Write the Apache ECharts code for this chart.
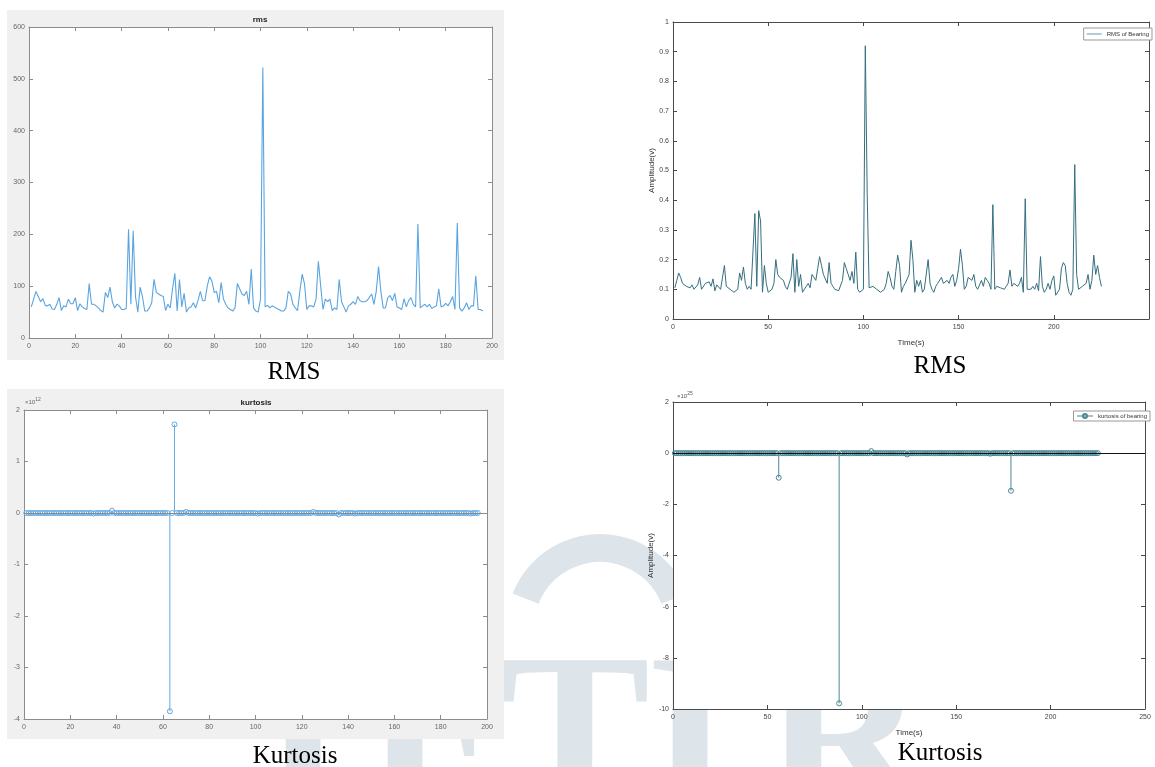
<!DOCTYPE html>
<html>
<head>
<meta charset="utf-8">
<script src="https://cdn.jsdelivr.net/npm/echarts@6/dist/echarts.min.js"></script>
<style>
html,body{margin:0;padding:0;background:#fff;}
#chart{width:1155px;height:767px;}
</style>
</head>
<body>
<div id="chart"></div>
<script>
// ---------- DATA ----------
const rmsLeft = [
60,75,90,80,70,76,63,62,65,56,
55,65,78,53,62,60,75,66,66,78,
53,66,60,57,55,105,65,65,62,58,
53,50,88,78,98,70,58,65,62,55,
55,57,210,65,207,80,50,98,80,52,
52,58,68,113,88,85,82,80,53,65,
58,95,125,52,113,60,86,50,58,60,
68,58,72,90,72,72,100,118,110,88,
90,68,107,75,65,58,55,52,58,105,
95,85,82,90,65,133,58,52,50,75,
522,60,63,58,62,60,57,55,52,52,
58,90,85,65,58,53,90,123,105,55,
62,62,60,75,148,100,55,75,70,75,
53,58,55,113,70,60,50,62,65,70,
65,80,72,70,70,72,78,85,65,90,
138,90,58,58,78,82,72,86,60,58,
55,76,60,72,78,65,60,220,58,62,
65,60,65,57,60,62,95,60,62,67,
62,70,80,55,222,58,52,58,68,55,
62,62,120,55,55,52
];

const rmsRight = [
0.105,0.13,0.155,0.14,0.12,0.125,0.11,0.115,0.105,0.115,
0.10,0.095,0.115,0.14,0.10,0.105,0.12,0.115,0.125,0.11,
0.135,0.095,0.115,0.11,0.10,0.095,0.18,0.11,0.11,0.10,
0.095,0.09,0.09,0.10,0.155,0.13,0.175,0.12,0.10,0.11,
0.10,0.095,0.355,0.11,0.365,0.33,0.09,0.18,0.12,0.09,
0.09,0.10,0.12,0.20,0.15,0.14,0.135,0.13,0.11,0.10,
0.10,0.14,0.22,0.09,0.20,0.11,0.15,0.09,0.10,0.11,
0.12,0.105,0.15,0.14,0.13,0.17,0.21,0.18,0.15,0.15,
0.12,0.19,0.12,0.11,0.10,0.095,0.095,0.10,0.13,0.19,
0.17,0.15,0.13,0.16,0.12,0.225,0.10,0.09,0.085,0.10,
0.92,0.42,0.105,0.10,0.11,0.105,0.10,0.095,0.09,0.09,
0.10,0.12,0.16,0.14,0.11,0.10,0.16,0.215,0.18,0.09,
0.11,0.12,0.12,0.15,0.265,0.20,0.09,0.13,0.11,0.13,
0.09,0.10,0.10,0.20,0.12,0.10,0.09,0.11,0.12,0.12,
0.14,0.12,0.12,0.13,0.12,0.14,0.15,0.11,0.13,0.17,
0.235,0.18,0.10,0.11,0.14,0.14,0.13,0.15,0.11,0.10,
0.10,0.13,0.11,0.14,0.13,0.12,0.10,0.385,0.10,0.11,
0.105,0.105,0.10,0.10,0.11,0.12,0.165,0.11,0.12,0.115,
0.11,0.12,0.14,0.09,0.405,0.10,0.095,0.10,0.11,0.10,
0.12,0.095,0.21,0.11,0.09,0.10,0.12,0.10,0.13,0.145,
0.08,0.075,0.10,0.17,0.19,0.18,0.12,0.09,0.08,0.10,
0.52,0.15,0.10,0.10,0.11,0.11,0.12,0.15,0.10,0.13,
0.215,0.15,0.18,0.14,0.11
];

// kurtosis, left panel, in units of 1e12
const kurtLeft = [
0,0,0,0,0,0,0,0,0,0,
0,0,0,0,0,0,0,0,0,0,
0,0,0,0,0,0,0,0,0,-0.01,
0,0,0,0,0,0,0,0.045,0,0,
0,0,0,0,0,0,0,0,0,0,
0,0,0,0,0,0,0,0,0,0,
0,0,-3.85,0,1.72,0,0,0,0,0.02,
0,0,0,0,0,0,0,0,0,0,
0,0,0,0,0,0,0,0,0,0,
0,0,0,0,0,0,0,0,0,0,
-0.01,0,0,0,0,0,0,0,0,0,
0,0,0,0,0,0,0,0,0,0,
0,0,0,0,0.02,0,0,0,0,0,
0,0,0,0,0,-0.03,0,0,0,0,
0,0,-0.01,0,0,0,0,0,0,0,
0,0,0,0,0,0,0,0,0,0,
0,0,0,0,0,0,0,0,0,0,
0,0,0,0,0,0,0,0,0,0,
0,0,0,0,0,0,0,0,0,0,
0,0,-0.01,0,0,0
];

// kurtosis, right panel, in units of 1e25
const kurtRight = [
0,0,0,0,0,0,0,0,0,0,
0,0,0,0,0,0,0,0,0,0,
0,0,0,0,0,0,0,0,0,0,
0,0,0,0,0,0,0,0,0,0,
0,0,0,0,0,0,0,0,0,0,
0,0,0,0,0,-0.96,0,0,0,0,
0,0,0,0,0,0,0,0,0,0,
0,0,0,0,0,0,0,0,0,0,
0,0,0,0,0,0,0,-9.78,0,0,
0,0,0,0,0,0,0,0,0,0,
0,0,0,0,0.08,0,0,0,0,0,
0,0,0,0,0,0,0,0,0,0,
0,0,0,-0.05,0,0,0,0,0,0,
0,0,0,0,0,0,0,0,0,0,
0,0,0,0,0,0,0,0,0,0,
0,0,0,0,0,0,0,0,0,0,
0,0,0,0,0,0,0,-0.02,0,0,
0,0,0,0,0,0,0,0,-1.47,0,
0,0,0,0,0,0,0,0,0,0,
0,0,0,0,0,0,0,0,0,0,
0,0,0,0,0,0,0,0,0,0,
0,0,0,0,0,0,0,0,0,0,
0,0,0,0,0
];

const panelTitles = ['rms', 'kurtosis'];
const captions = ['RMS', 'RMS', 'Kurtosis', 'Kurtosis'];
const legendNames = ['RMS of Bearing', 'kurtosis of bearing'];
const axisNames = { x: 'Time(s)', y: 'Amplitude(v)' };
const watermarkLetters = ['J', 'E', 'T', 'I', 'R'];

// ---------- helpers ----------
const toPairs = arr => arr.map((v, i) => [i + 1, v]);

const xAxes = [], yAxes = [];
function addAxes(g, xr, yr, col, labCol, o) {
  o = o || {};
  const mk = (extra) => Object.assign({
    gridIndex: g, type: 'value', splitLine: { show: false },
    axisLine: { onZero: false, lineStyle: { color: col, width: 1 } },
    axisTick: { inside: true, length: 4, lineStyle: { color: col } }
  }, extra);
  const lab = { fontSize: 7, color: labCol, fontFamily: 'Liberation Sans' };
  const xi = xAxes.length, yi = yAxes.length;
  xAxes.push(mk({
    position: 'bottom', min: xr[0], max: xr[1], interval: xr[2],
    axisLabel: Object.assign({ margin: 5, showMaxLabel: o.showMaxX !== false }, lab),
    name: o.xName || '', nameLocation: 'middle', nameGap: 20,
    nameTextStyle: { fontSize: 8, color: '#333', fontFamily: 'Liberation Sans' }
  }));
  xAxes.push(mk({ position: 'top', min: xr[0], max: xr[1], interval: xr[2], axisLabel: { show: false } }));
  yAxes.push(mk({
    position: 'left', min: yr[0], max: yr[1], interval: yr[2],
    axisLabel: Object.assign({ margin: 4 }, lab),
    name: o.yName || '', nameLocation: 'middle', nameGap: 14, nameRotate: 90,
    nameTextStyle: { fontSize: 8, color: '#333', fontFamily: 'Liberation Sans' }
  }));
  yAxes.push(mk({ position: 'right', min: yr[0], max: yr[1], interval: yr[2], axisLabel: { show: false } }));
  return { xi, yi };
}

const a0 = addAxes(0, [0, 200, 20], [0, 600, 100], '#8c8c8c', '#666');
const a1 = addAxes(1, [0, 250, 50], [0, 1, 0.1], '#4a4a4a', '#444', { showMaxX: false, xName: axisNames.x, yName: axisNames.y });
const a2 = addAxes(2, [0, 200, 20], [-4, 2, 1], '#8c8c8c', '#666');
const a3 = addAxes(3, [0, 250, 50], [-10, 2, 2], '#4a4a4a', '#444', { xName: axisNames.x, yName: axisNames.y });

function stemSeries(ax, data, color, baseColor) {
  return {
    type: 'custom', xAxisIndex: ax.xi, yAxisIndex: ax.yi, silent: true,
    data: data, encode: { x: 0, y: 1 },
    renderItem: function (params, api) {
      const p0 = api.coord([api.value(0), 0]);
      const p1 = api.coord([api.value(0), api.value(1)]);
      return { type: 'line', shape: { x1: p0[0], y1: p0[1], x2: p1[0], y2: p1[1] },
        style: { stroke: color, lineWidth: 1 } };
    },
    markLine: {
      silent: true, symbol: 'none', label: { show: false },
      lineStyle: { color: baseColor, width: 1, type: 'solid' },
      data: [{ yAxis: 0 }], animation: false
    }
  };
}
function markerSeries(ax, name, data, color) {
  return {
    type: 'line', name: name, xAxisIndex: ax.xi, yAxisIndex: ax.yi,
    data: data, symbol: 'circle', symbolSize: 5, showAllSymbol: true,
    lineStyle: { opacity: 0, color: color, width: 1 },
    itemStyle: { color: 'rgba(0,0,0,0)', borderColor: color, borderWidth: 1 },
    z: 3
  };
}

const kLcol = '#62a9e3', kRcol = '#4a8797';
const wmCol = '#dde4ea';
const wmCenters = [287, 440, 575, 690, 845];

const wmElements = watermarkLetters.map((ch, i) => ({
  type: 'text', z: -10, x: wmCenters[i], y: 637, silent: true,
  style: { text: ch, fontSize: 225, fontWeight: 'bold', fontFamily: 'Liberation Serif',
    fill: wmCol, align: 'center', verticalAlign: 'top' }
}));

const option = {
  animation: false,
  backgroundColor: '#ffffff',
  grid: [
    { left: 29, top: 27, width: 463, height: 311, show: true, backgroundColor: '#fff', borderWidth: 0 },
    { left: 673, top: 22, width: 476, height: 297, show: true, backgroundColor: '#fff', borderWidth: 0 },
    { left: 24, top: 410, width: 463, height: 309, show: true, backgroundColor: '#fff', borderWidth: 0 },
    { left: 673, top: 402, width: 472, height: 307, show: true, backgroundColor: '#fff', borderWidth: 0 }
  ],
  xAxis: xAxes,
  yAxis: yAxes,
  legend: [
    {
      data: [{ name: legendNames[0], icon: 'rect' }], right: 3, top: 28, orient: 'vertical',
      itemWidth: 15, itemHeight: 1, itemGap: 2, padding: [3, 3, 3, 3],
      backgroundColor: '#fff', borderColor: '#999', borderWidth: 1, borderRadius: 0,
      textStyle: { fontSize: 6, color: '#333', fontFamily: 'Liberation Sans' }
    },
    {
      data: [legendNames[1]], right: 5, top: 411, orient: 'vertical',
      itemWidth: 16, itemHeight: 5, itemGap: 2, padding: [2, 3, 2, 3],
      backgroundColor: '#fff', borderColor: '#999', borderWidth: 1, borderRadius: 0,
      lineStyle: { opacity: 1, width: 1, color: kRcol },
      textStyle: { fontSize: 6, color: '#333', fontFamily: 'Liberation Sans' }
    }
  ],
  series: [
    { type: 'line', name: 'rms', xAxisIndex: a0.xi, yAxisIndex: a0.yi, data: toPairs(rmsLeft),
      symbol: 'none', lineStyle: { color: '#5aa5e0', width: 1.1 }, itemStyle: { color: '#5aa5e0' } },
    { type: 'line', name: legendNames[0], xAxisIndex: a1.xi, yAxisIndex: a1.yi, data: toPairs(rmsRight),
      symbol: 'none', lineStyle: { color: '#356f7f', width: 1 }, itemStyle: { color: '#5f9aa8' } },
    stemSeries(a2, toPairs(kurtLeft), kLcol, '#8a8a8a'),
    markerSeries(a2, 'kurtosis', toPairs(kurtLeft), kLcol),
    stemSeries(a3, toPairs(kurtRight), kRcol, '#111'),
    markerSeries(a3, legendNames[1], toPairs(kurtRight), kRcol)
  ],
  graphic: { elements: wmElements.concat([
    { type: 'arc', z: -10, silent: true,
      shape: { cx: 600, cy: 628, r: 80, startAngle: Math.PI * 1.12, endAngle: Math.PI * 1.88 },
      style: { stroke: wmCol, lineWidth: 28, fill: null } },
    // figure backgrounds (left panels)
    { type: 'rect', z: -5, silent: true, shape: { x: 7, y: 10, width: 497, height: 350 }, style: { fill: '#f0f0f0' } },
    { type: 'rect', z: -5, silent: true, shape: { x: 7, y: 389, width: 497, height: 350 }, style: { fill: '#f0f0f0' } },
    // panel titles
    { type: 'text', z: 10, x: 260, y: 20, silent: true,
      style: { text: panelTitles[0], fontSize: 8, fontWeight: 'bold', fill: '#222', fontFamily: 'Liberation Sans', align: 'center', verticalAlign: 'middle' } },
    { type: 'text', z: 10, x: 256, y: 403, silent: true,
      style: { text: panelTitles[1], fontSize: 8, fontWeight: 'bold', fill: '#222', fontFamily: 'Liberation Sans', align: 'center', verticalAlign: 'middle' } },
    // exponent labels
    { type: 'text', z: 10, x: 25, y: 402, silent: true,
      style: { text: '{a|×10}{b|12}', fontFamily: 'Liberation Sans', verticalAlign: 'middle',
        rich: { a: { fontSize: 6, fill: '#666' }, b: { fontSize: 5, fill: '#666', verticalAlign: 'top', padding: [0, 0, 5, 0] } } } },
    { type: 'text', z: 10, x: 677, y: 396, silent: true,
      style: { text: '{a|×10}{b|25}', fontFamily: 'Liberation Sans', verticalAlign: 'middle',
        rich: { a: { fontSize: 6, fill: '#555' }, b: { fontSize: 5, fill: '#555', verticalAlign: 'top', padding: [0, 0, 5, 0] } } } },
    // captions
    { type: 'text', z: 10, x: 294, y: 372, silent: true,
      style: { text: captions[0], fontSize: 25, fontFamily: 'Liberation Serif', fill: '#000', align: 'center', verticalAlign: 'middle' } },
    { type: 'text', z: 10, x: 940, y: 366, silent: true,
      style: { text: captions[1], fontSize: 25, fontFamily: 'Liberation Serif', fill: '#000', align: 'center', verticalAlign: 'middle' } },
    { type: 'text', z: 10, x: 295, y: 756, silent: true,
      style: { text: captions[2], fontSize: 25, fontFamily: 'Liberation Serif', fill: '#000', align: 'center', verticalAlign: 'middle' } },
    { type: 'text', z: 10, x: 940, y: 753, silent: true,
      style: { text: captions[3], fontSize: 25, fontFamily: 'Liberation Serif', fill: '#000', align: 'center', verticalAlign: 'middle' } }
  ]) }
};

const chart = echarts.init(document.getElementById('chart'), null, { renderer: 'canvas' });
chart.setOption(option);
</script>
</body>
</html>
